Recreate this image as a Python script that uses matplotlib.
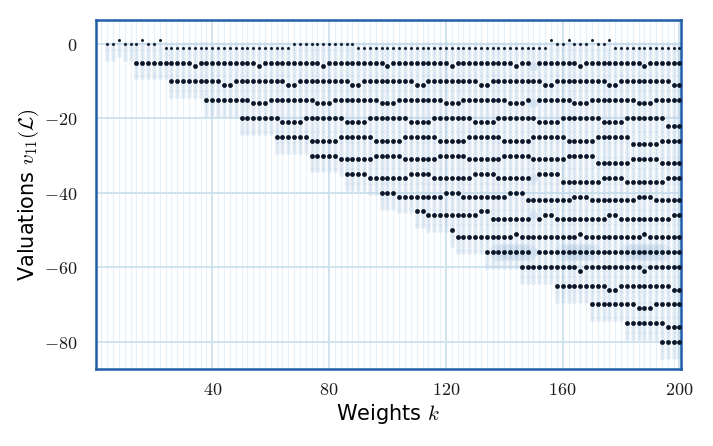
import numpy as np
import matplotlib
matplotlib.use("Agg")
import matplotlib.pyplot as plt

plt.rcParams["mathtext.fontset"] = "cm"
plt.rcParams["font.family"] = ["DejaVu Sans"]

# top row (valuation near 0), one char per even weight from 4: '+'=1, '0'=0, '-'=-1
top_start = 4
top_row = ("00+000+00+"
           "-----------" "-----------"
           "00000000000"
           "-----------" "-----------" "-----------"
           "+00+000+00+"
           "------------")

# lower rows: first weight, level, and drop below the level per even weight
# ('.' means no dark dot at that weight)
row_start = [14, 26, 38, 50, 62, 74, 86, 98, 110, 122, 134, 146, 158, 170, 182, 194]
row_level = [-5, -10, -15, -20, -25, -30, -35, -40, -45, -50, -55, -60, -65, -70, -75, -80]
row_drop = [
    "00000000001" "00000000001" "00000000001" "00000000001" "00000000001"
    "00000000001" "00.00000001" "00000000001" "000000",
    "00000000011" "00000000011" "00000000011" "00000000011" "00000000011"
    "00000000011" "00000000011" "00000000011",
    "00000000111" "00000000111" "00000000111" "00000000111" "00000000111"
    "0.000000111" "00000000111" "00000",
    "00000001111" "00000001111" "00000001111" "00000001111" "00000001111"
    "00000001111" "0000000222",
    "00000011111" "00000011111" "00000011111" "00000011111" "00000011111"
    "000000222221111",
    "00000111111" "00000111111" "00000111111" "00000111111" "00000222222"
    "111112222",
    "00001111111" "00001111111" "0000111111." "00002222222" "11112222222"
    "111",
    "00011111111" "00011111111" "00022222222" "11122222222" "11122222",
    "00111111111" "002222222.2" "11222222222" "11222222222" "11",
    "0" "2222222222" "1" "2222222222" "1" "2222222222" "1" "222222",
    "11111111.1111111111111111111111111",
    "0000000000" "1" "0000000000" "1" "000000",
    "00000000011" "00000000011",
    "00000000111" "00000",
    "0000000111",
    "0000",
]

# pale clusters along the -56 row
blob_ranges = [(138, 148), (160, 170), (182, 194)]
blob_level = -56

k_max = 200
sym = {"+": 1, "0": 0, "-": -1}

top_k = top_start + 2 * np.arange(len(top_row))
top_v = np.array([sym[c] for c in top_row])
assert top_k[-1] == k_max

dot_k, dot_v, gap_k, gap_v = [], [], [], []
for start, level, drops in zip(row_start, row_level, row_drop):
    assert start + 2 * (len(drops) - 1) == k_max, (start, len(drops))
    for i, c in enumerate(drops):
        k = start + 2 * i
        if c == ".":
            gap_k.append(k)
            gap_v.append(level - 1)
        else:
            dot_k.append(k)
            dot_v.append(level - int(c))
dot_k = np.array(dot_k)
dot_v = np.array(dot_v)

# pale columns: every integer from 0 down a little below the lowest dark dot
all_k = np.concatenate([top_k, dot_k])
all_v = np.concatenate([top_v, dot_v])
bg_k, bg_v = [], []
for k in top_k:
    low = all_v[all_k == k].min() - 4
    vals = np.arange(0, low - 1, -1)
    bg_k.extend([k] * len(vals))
    bg_v.extend(vals)

fig = plt.figure(figsize=(7.13, 4.46), dpi=100)
ax = fig.add_axes([0.134, 0.173, 0.821, 0.782])
ax.set_axisbelow(True)

ax.scatter(bg_k, bg_v, s=13, color="#b9cfe6", alpha=0.35, linewidths=0, zorder=1)

for lo, hi in blob_ranges:
    bk = np.arange(lo, hi + 1, 2)
    ax.scatter(bk, np.full(len(bk), blob_level), s=160, color="#8fb2d8",
               alpha=0.14, linewidths=0, zorder=1.5)

ax.scatter(gap_k, gap_v, s=40, color="#c9dbed", alpha=0.6, linewidths=0, zorder=1.6)
ax.scatter(top_k, top_v, s=4.5, color="#0b1628", linewidths=0, zorder=3)
ax.scatter(dot_k, dot_v, s=12, color="#0b1628", linewidths=0, zorder=3)

ax.set_xlim(0, 200.5)
ax.set_ylim(-87.3, 6.4)

xt = [40, 80, 120, 160, 200]
yt = [0, -20, -40, -60, -80]
ax.set_xticks(xt, [f"${t}$" for t in xt])
ax.set_yticks(yt, ["$0$"] + [f"${{-}}{-t}$" for t in yt[1:]])
ax.set_xticks(np.arange(0, 201, 2), minor=True)
ax.tick_params(which="both", length=0, labelsize=13, colors="#1a1a1a")
ax.tick_params(axis="x", pad=9)
ax.tick_params(axis="y", pad=13)

ax.grid(which="minor", axis="x", color="#e8f1f8", lw=0.9)
ax.grid(which="major", color="#cde2ed", lw=1.3)

for sp in ax.spines.values():
    sp.set_color("#1f5ea8")
    sp.set_linewidth(1.8)

ax.set_xlabel(r"Weights $k$", fontsize=15, labelpad=2)
ax.set_ylabel(r"Valuations $v_{11}(\mathcal{L})$", fontsize=15, labelpad=2)

fig.savefig("out.png", dpi=100)
